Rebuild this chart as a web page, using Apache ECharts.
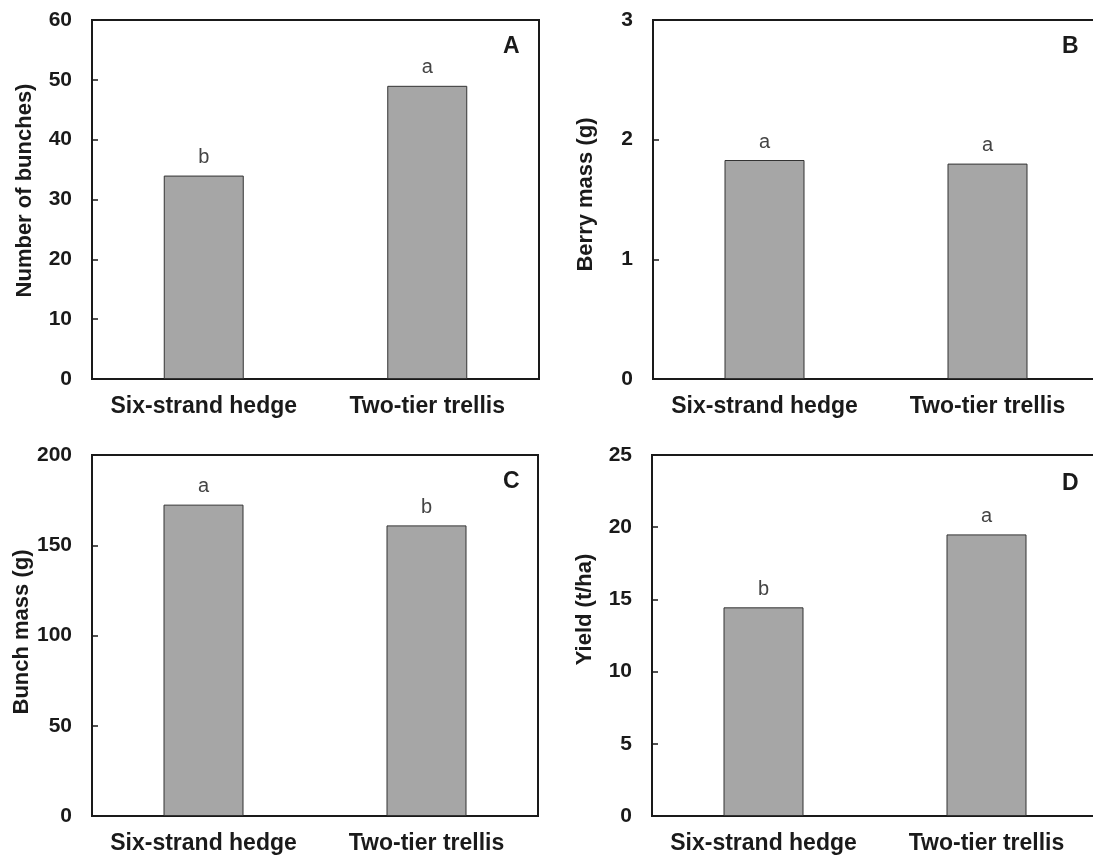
<!DOCTYPE html>
<html>
<head>
<meta charset="utf-8">
<script src="https://cdn.jsdelivr.net/npm/echarts@6/dist/echarts.min.js"></script>
<style>
html,body{margin:0;padding:0;background:#fff;overflow:hidden;width:1093px;height:857px;}
#chart{width:1102px;height:857px;}
</style>
</head>
<body>
<div id="chart"></div>
<script>
// ---- data ----
const categories = ['Six-strand hedge', 'Two-tier trellis'];
const bunchCount = [34, 49];
const bunchLetters = ['b', 'a'];
const berryMass = [1.83, 1.80];
const berryLetters = ['a', 'a'];
const bunchMass = [172.5, 161];
const bunchMassLetters = ['a', 'b'];
const yieldTha = [14.45, 19.5];
const yieldLetters = ['b', 'a'];

const panelNames = ['Number of bunches)', 'Berry mass (g)', 'Bunch mass (g)', 'Yield (t/ha)'];
const panelLetters = ['A', 'B', 'C', 'D'];
const yMax = [60, 3, 200, 25];
const yStep = [10, 1, 50, 5];

const FONT = "'Liberation Sans', Arial, Helvetica, sans-serif";
const INK = '#1a1a1a';

const grids = [
  {left: 92, top: 20, width: 447, height: 359},
  {left: 653, top: 20, width: 446, height: 359},
  {left: 92, top: 455, width: 446, height: 361},
  {left: 652, top: 455, width: 446, height: 361}
];
const namePad = [18, 10, 7, 52];
const seriesData = [bunchCount, berryMass, bunchMass, yieldTha];
const seriesLetters = [bunchLetters, berryLetters, bunchMassLetters, yieldLetters];

const option = {
  backgroundColor: '#fff',
  animation: false,
  grid: grids.map(g => Object.assign({show: true, borderColor: INK, borderWidth: 2, backgroundColor: 'transparent', containLabel: false}, g)),
  xAxis: grids.map((g, i) => ({
    type: 'category',
    gridIndex: i,
    data: categories,
    axisLine: {lineStyle: {color: INK, width: 2}},
    axisTick: {show: false},
    axisLabel: {interval: 0, color: INK, fontFamily: FONT, fontWeight: 'bold', fontSize: 23, margin: 16}
  })),
  yAxis: grids.map((g, i) => ({
    type: 'value',
    gridIndex: i,
    min: 0,
    max: yMax[i],
    interval: yStep[i],
    name: panelNames[i],
    nameLocation: 'middle',
    nameRotate: 90,
    nameGap: 56,
    nameTextStyle: {color: INK, fontFamily: FONT, fontWeight: 'bold', fontSize: 22, padding: [0, 0, 0, namePad[i]]},
    axisLine: {show: true, lineStyle: {color: INK, width: 2}},
    axisTick: {show: true, inside: true, length: 6, lineStyle: {color: INK, width: 1.5}},
    splitLine: {show: false},
    axisLabel: {color: INK, fontFamily: FONT, fontWeight: 'bold', fontSize: 21, margin: 20}
  })),
  series: seriesData.map((d, i) => ({
    type: 'bar',
    xAxisIndex: i,
    yAxisIndex: i,
    barWidth: 80,
    data: d,
    itemStyle: {color: '#a6a6a6', borderColor: '#333', borderWidth: 1},
    label: {
      show: true,
      position: 'top',
      distance: 8,
      color: '#444',
      fontFamily: FONT,
      fontSize: 20,
      formatter: p => seriesLetters[i][p.dataIndex]
    }
  })),
  graphic: [
    {type: 'text', left: 503, top: 35, style: {text: panelLetters[0], font: 'bold 23px ' + FONT, fill: INK}},
    {type: 'text', left: 1062, top: 35, style: {text: panelLetters[1], font: 'bold 23px ' + FONT, fill: INK}},
    {type: 'text', left: 503, top: 470, style: {text: panelLetters[2], font: 'bold 23px ' + FONT, fill: INK}},
    {type: 'text', left: 1062, top: 472, style: {text: panelLetters[3], font: 'bold 23px ' + FONT, fill: INK}}
  ]
};

const chart = echarts.init(document.getElementById('chart'), null, {renderer: 'canvas'});
chart.setOption(option);
</script>
</body>
</html>
